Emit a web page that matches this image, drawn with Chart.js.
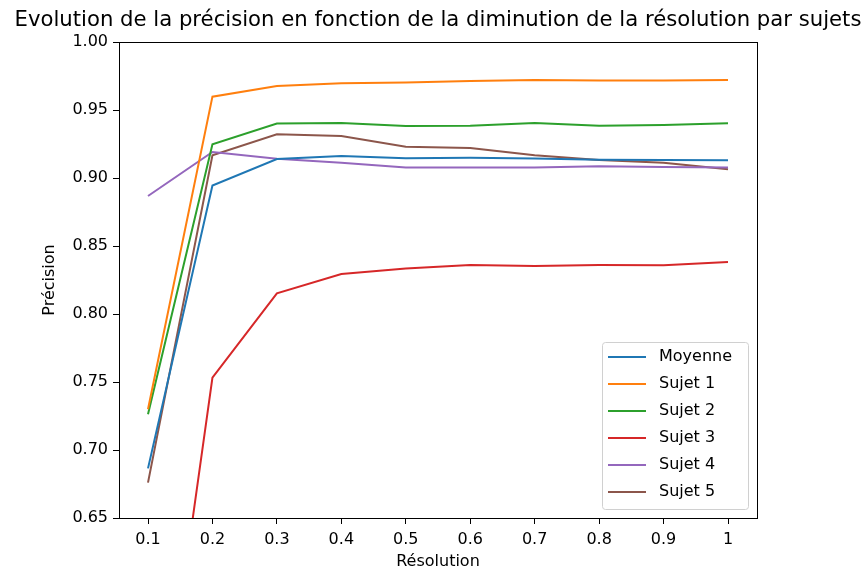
<!DOCTYPE html>
<html>
<head>
<meta charset="utf-8">
<script src="https://cdn.jsdelivr.net/npm/chart.js@4.4.1/dist/chart.umd.min.js"></script>
<style>
  html, body { margin: 0; padding: 0; background: #fff; }
  #wrap { width: 865px; height: 571px; position: relative; }
</style>
</head>
<body>
<div id="wrap"><canvas id="precisionChart"></canvas></div>
<script>
// data
const resolution = [0.1, 0.2, 0.3, 0.4, 0.5, 0.6, 0.7, 0.8, 0.9, 1.0];
const moyenne = [0.6865, 0.8945, 0.9140, 0.9162, 0.9145, 0.9148, 0.9143, 0.9135, 0.9133, 0.9130];
const sujet1 = [0.7300, 0.9598, 0.9676, 0.9696, 0.9703, 0.9713, 0.9720, 0.9716, 0.9716, 0.9720];
const sujet2 = [0.7263, 0.9248, 0.9400, 0.9404, 0.9382, 0.9385, 0.9404, 0.9385, 0.9390, 0.9402];
const sujet3 = [0.4150, 0.7532, 0.8152, 0.8294, 0.8335, 0.8360, 0.8353, 0.8360, 0.8358, 0.8382];
const sujet4 = [0.8868, 0.9191, 0.9142, 0.9113, 0.9078, 0.9078, 0.9078, 0.9086, 0.9080, 0.9078];
const sujet5 = [0.6760, 0.9167, 0.9321, 0.9309, 0.9230, 0.9221, 0.9167, 0.9132, 0.9113, 0.9064];
const xTicks = [0.1, 0.2, 0.3, 0.4, 0.5, 0.6, 0.7, 0.8, 0.9, 1];
const yTicks = [0.65, 0.70, 0.75, 0.80, 0.85, 0.90, 0.95, 1.00];

const seriesNames = ['Moyenne', 'Sujet 1', 'Sujet 2', 'Sujet 3', 'Sujet 4', 'Sujet 5'];
const seriesValues = [moyenne, sujet1, sujet2, sujet3, sujet4, sujet5];
const colors = ['#1f77b4', '#ff7f0e', '#2ca02c', '#d62728', '#9467bd', '#8c564b'];
const titleText = 'Evolution de la précision en fonction de la diminution de la résolution par sujets';

const FONT = "'DejaVu Sans', sans-serif";
Chart.defaults.font.family = FONT;
Chart.defaults.color = '#000';

// title centred over the plot, frame around it, legend in the lower right corner
const framePlugin = {
    id: 'frame',
    afterDraw(chart) {
        const ctx = chart.ctx;
        const a = chart.chartArea;
        ctx.save();
        ctx.fillStyle = '#000';
        ctx.font = '21.2px ' + FONT;
        ctx.textAlign = 'center';
        ctx.textBaseline = 'middle';
        ctx.fillText(titleText, (a.left + a.right) / 2, 20.5);
        ctx.textAlign = 'left';

        ctx.strokeStyle = '#000';
        ctx.lineWidth = 1;
        ctx.strokeRect(Math.round(a.left) + 0.5, Math.round(a.top) + 0.5,
            Math.round(a.right - a.left), Math.round(a.bottom - a.top));

        // legend
        const w = 146, h = 167;
        const x = a.right - 9 - w, y = a.bottom - 9 - h;
        ctx.fillStyle = 'rgba(255,255,255,0.8)';
        ctx.strokeStyle = '#d0d0d0';
        ctx.beginPath();
        ctx.roundRect(x + 0.5, y + 0.5, w, h, 3);
        ctx.fill();
        ctx.stroke();
        ctx.font = '16px ' + FONT;
        ctx.textBaseline = 'middle';
        chart.data.datasets.forEach((ds, i) => {
            const ry = y + 15 + i * 27;
            ctx.strokeStyle = ds.borderColor;
            ctx.lineWidth = 2;
            ctx.beginPath();
            ctx.moveTo(x + 6, ry);
            ctx.lineTo(x + 44, ry);
            ctx.stroke();
            ctx.fillStyle = '#000';
            ctx.fillText(ds.label, x + 57, ry);
        });
        ctx.restore();
    }
};

const ctx = document.getElementById('precisionChart').getContext('2d');
new Chart(ctx, {
    type: 'line',
    data: {
        datasets: seriesNames.map((name, i) => ({
            label: name,
            data: resolution.map((r, j) => ({ x: r, y: seriesValues[i][j] })),
            borderColor: colors[i],
            backgroundColor: colors[i],
            borderWidth: 2,
            pointRadius: 0,
            tension: 0,
            fill: false,
            clip: 0,
        })),
    },
    options: {
        responsive: true,
        maintainAspectRatio: false,
        animation: false,
        events: [],
        layout: { padding: { left: 0, right: 108, top: 42, bottom: 0 } },
        plugins: {
            legend: { display: false },
            tooltip: { enabled: false },
            title: { display: false },
        },
        scales: {
            x: {
                type: 'linear',
                min: 0.055,
                max: 1.045,
                afterBuildTicks: s => { s.ticks = xTicks.map(v => ({ value: v })); },
                afterFit: s => { s.height = 53; },
                ticks: {
                    font: { size: 16 },
                    color: '#000',
                    padding: 6,
                    maxRotation: 0,
                    callback: v => String(v),
                },
                grid: { display: true, drawOnChartArea: false, drawTicks: true, tickLength: 6, color: '#000' },
                border: { display: false },
                title: {
                    display: true,
                    text: 'Résolution',
                    font: { size: 16 },
                    color: '#000',
                    padding: { top: 5, bottom: 0 },
                },
            },
            y: {
                type: 'linear',
                min: 0.65,
                max: 1.0,
                afterBuildTicks: s => { s.ticks = yTicks.map(v => ({ value: v })); },
                afterFit: s => { s.width = 119; },
                ticks: {
                    font: { size: 16 },
                    color: '#000',
                    padding: 5,
                    callback: v => v.toFixed(2),
                },
                grid: { display: true, drawOnChartArea: false, drawTicks: true, tickLength: 6, color: '#000' },
                border: { display: false },
                title: {
                    display: true,
                    text: 'Précision',
                    font: { size: 16 },
                    color: '#000',
                    padding: { top: 40, bottom: 0 },
                },
            },
        },
    },
    plugins: [framePlugin],
});
</script>
</body>
</html>
